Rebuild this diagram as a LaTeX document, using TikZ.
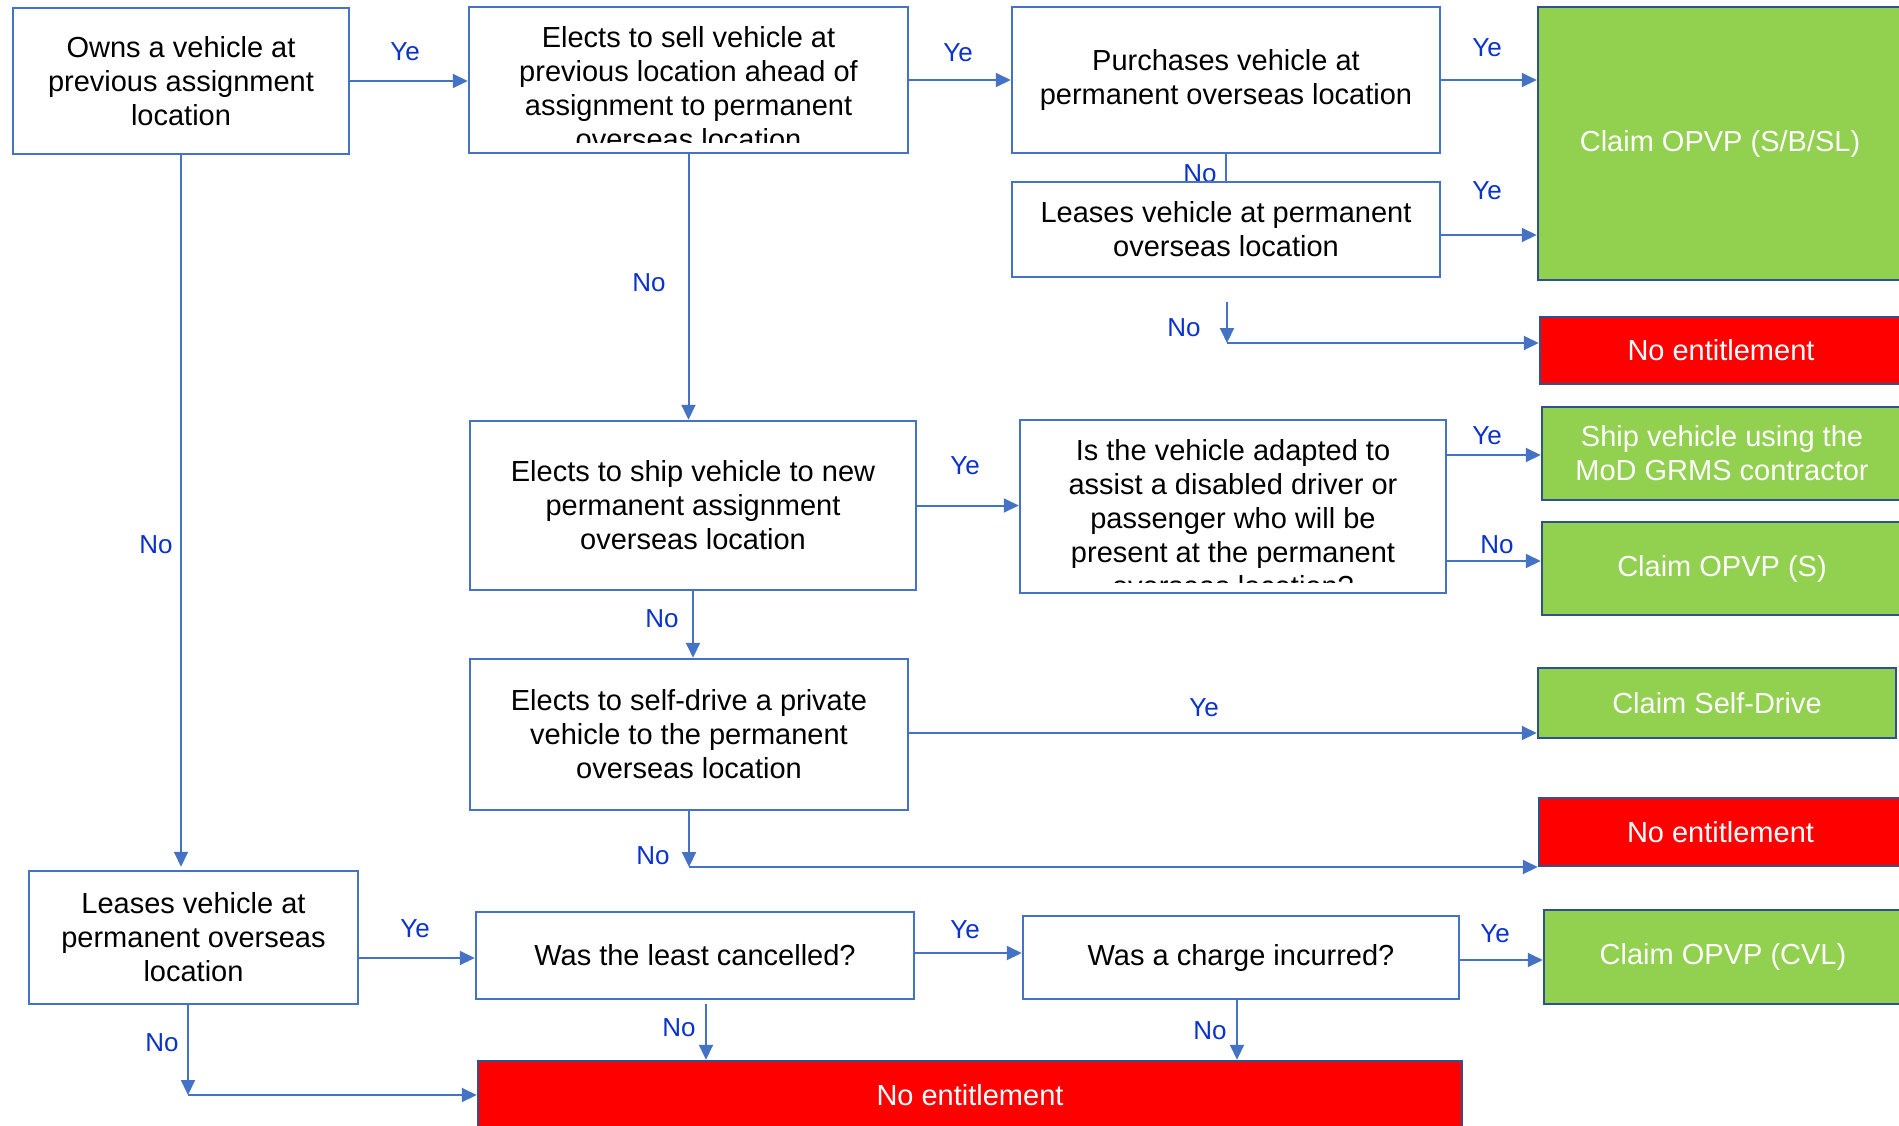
\documentclass[tikz,border=0pt]{standalone}
\usepackage{fontspec}
\setmainfont{Liberation Sans}
\usetikzlibrary{arrows.meta,calc}
\definecolor{bord}{HTML}{4472C4}
\definecolor{dbord}{HTML}{2F528F}
\definecolor{gfill}{HTML}{92D050}
\definecolor{rfill}{HTML}{FF0000}
\definecolor{lblue}{RGB}{10,50,205}
\tikzset{
  wbox/.style={draw=bord, line width=2.5pt, fill=white, rectangle, inner sep=0pt, align=center,
    font=\fontsize{29}{34}\selectfont, text=black},
  gbox/.style={draw=dbord, line width=2.5pt, fill=gfill, rectangle, inner sep=0pt, align=center,
    font=\fontsize{29}{34}\selectfont, text=white},
  rbox/.style={draw=dbord, line width=2.5pt, fill=rfill, rectangle, inner sep=0pt, align=center,
    font=\fontsize{29}{34}\selectfont, text=white},
  btext/.style={inner sep=0pt, align=center, font=\fontsize{29}{34}\selectfont, text=black},
  lbl/.style={inner sep=0pt, font=\fontsize{26}{30}\selectfont, text=lblue},
  arr/.style={draw=bord, line width=2pt, -{Triangle[length=15pt,width=14pt]}},
  ln/.style={draw=bord, line width=2pt}
}
\begin{document}
\begin{tikzpicture}[x=1pt,y=-1pt]
\useasboundingbox (0,0) rectangle (1899,1125);
\fill[white] (0,0) rectangle (1899,1125);

% label drawn behind D
\node[lbl] (lCD) at (1200,174) {No};

% boxes
\node[wbox, minimum width=336pt, minimum height=146pt] (A) at (181,81) {Owns a vehicle at\\previous assignment\\location};
\node[wbox, minimum width=439pt, minimum height=146pt] (B) at (688.5,80) {};
\begin{scope}
\clip (470,8) rectangle (907,142);
\node[btext] (Bt) at (688.5,88) {Elects to sell vehicle at\\previous location ahead of\\assignment to permanent\\overseas location};
\end{scope}
\node[wbox, minimum width=428pt, minimum height=146pt] (C) at (1226,80) {Purchases vehicle at\\permanent overseas location};
\node[wbox, minimum width=428pt, minimum height=95pt] (D) at (1226,229.5) {Leases vehicle at permanent\\overseas location};
\node[gbox, minimum width=364pt, minimum height=273pt] (G1) at (1720,143.5) {Claim OPVP (S/B/SL)};
\node[rbox, minimum width=362pt, minimum height=67pt] (R1) at (1721,350.5) {No entitlement};

\node[wbox, minimum width=446pt, minimum height=169pt] (E) at (693,505.5) {Elects to ship vehicle to new\\permanent assignment\\overseas location};
\node[wbox, minimum width=426pt, minimum height=173pt] (F) at (1233,506.5) {};
\begin{scope}
\clip (1021,421) rectangle (1445,582);
\node[btext] (Ft) at (1233,518) {Is the vehicle adapted to\\assist a disabled driver or\\passenger who will be\\present at the permanent\\overseas location?};
\end{scope}
\node[gbox, minimum width=360pt, minimum height=93pt] (G2) at (1722,453.5) {Ship vehicle using the\\MoD GRMS contractor};
\node[gbox, minimum width=360pt, minimum height=93pt] (G3) at (1722,568.5) {Claim OPVP (S)};

\node[wbox, minimum width=438pt, minimum height=151pt] (H) at (689,734.5) {Elects to self-drive a private\\vehicle to the permanent\\overseas location};
\node[gbox, minimum width=358pt, minimum height=70pt] (G4) at (1717,703) {Claim Self-Drive};
\node[rbox, minimum width=363pt, minimum height=68pt] (R2) at (1720.5,832) {No entitlement};

\node[wbox, minimum width=329pt, minimum height=133pt] (I) at (193.5,937.5) {Leases vehicle at\\permanent overseas\\location};
\node[wbox, minimum width=438pt, minimum height=87pt] (J) at (695,955.5) {Was the least cancelled?};
\node[wbox, minimum width=436pt, minimum height=83pt] (K) at (1241,957.5) {Was a charge incurred?};
\node[gbox, minimum width=358pt, minimum height=94pt] (G5) at (1723,957) {Claim OPVP (CVL)};
\node[rbox, minimum width=984pt, minimum height=68pt] (R3) at (970,1095) {No entitlement};

% coordinates
\coordinate (d1) at (1440,235);
\coordinate (n1s) at (1227,302);
\coordinate (n1c) at (1227,343);
\coordinate (f1) at (1446,455);
\coordinate (f2) at (1446,561);
\coordinate (h1) at (908,733);
\coordinate (h2) at (689,867);
\coordinate (i1) at (358,958);
\coordinate (j1) at (914,953);
\coordinate (k1) at (1459,960);
\coordinate (j2) at (706,1004);
\coordinate (k2) at (1237,999);
\coordinate (i2) at (188,1004);
\coordinate (i3) at (188,1095);

% connectors
\draw[arr] (A.east) -- (A.east -| B.west);
\draw[arr] (B.east) -- (B.east -| C.west);
\draw[arr] (C.east) -- (C.east -| G1.west);
\draw[ln] (C.south) -- (D.north);
\draw[arr] (d1) -- (d1 -| G1.west);
\draw[arr] (n1s) -- (n1c);
\draw[arr] (n1c) -- (n1c -| R1.west);
\draw[arr] (B.south) -- (B.south |- E.north);
\draw[arr] (A.south) -- ($(A.south |- I.north)+(0,-3)$);
\draw[arr] (E.east) -- (E.east -| F.west);
\draw[arr] (f1) -- (f1 -| G2.west);
\draw[arr] (f2) -- (f2 -| G3.west);
\draw[arr] (E.south) -- (E.south |- H.north);
\draw[arr] (h1) -- (h1 -| G4.west);
\draw[arr] (H.south) -- (h2);
\draw[arr] (h2) -- (h2 -| R2.west);
\draw[arr] (i1) -- (i1 -| J.west);
\draw[arr] (j1) -- (j1 -| K.west);
\draw[arr] (k1) -- (k1 -| G5.west);
\draw[arr] (j2) -- (j2 |- R3.north);
\draw[arr] (k2) -- (k2 |- R3.north);
\draw[arr] (i2) -- (i3);
\draw[arr] (i3) -- (i3 -| R3.west);

% labels
\node[lbl] (l1) at (405,52) {Ye};
\node[lbl] (l2) at (958,53) {Ye};
\node[lbl] (l3) at (1487,48) {Ye};
\node[lbl] (l4) at (1487,191) {Ye};
\node[lbl] (l5) at (1184,328) {No};
\node[lbl] (l6) at (649,283) {No};
\node[lbl] (l7) at (156,545) {No};
\node[lbl] (l8) at (965,466) {Ye};
\node[lbl] (l9) at (1487,436) {Ye};
\node[lbl] (l10) at (1497,545) {No};
\node[lbl] (l11) at (662,619) {No};
\node[lbl] (l12) at (1204,708) {Ye};
\node[lbl] (l13) at (653,856) {No};
\node[lbl] (l14) at (415,929) {Ye};
\node[lbl] (l15) at (965,930) {Ye};
\node[lbl] (l16) at (1495,934) {Ye};
\node[lbl] (l17) at (679,1028) {No};
\node[lbl] (l18) at (1210,1031) {No};
\node[lbl] (l19) at (162,1043) {No};
\end{tikzpicture}
\end{document}
